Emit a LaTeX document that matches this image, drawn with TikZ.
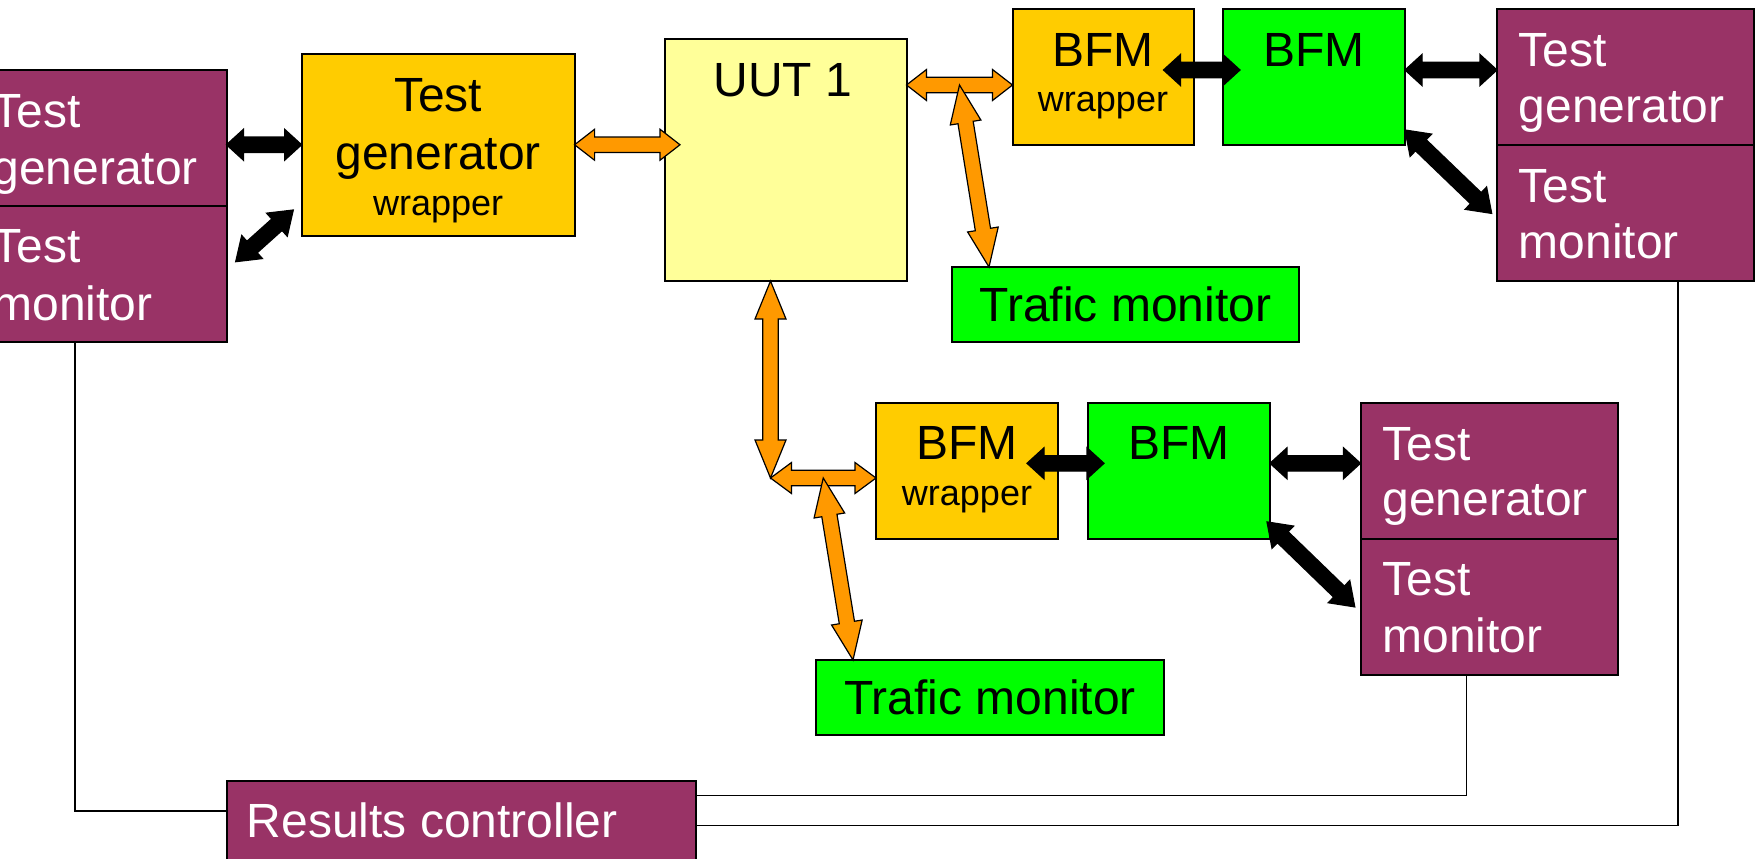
\documentclass[tikz,border=0pt]{standalone}
\usepackage{fontspec}
\setmainfont{Liberation Sans}
\usetikzlibrary{calc}
\definecolor{ppurple}{HTML}{993366}
\definecolor{pgold}{HTML}{FFCC00}
\definecolor{pyellow}{HTML}{FFFF99}
\definecolor{pgreen}{HTML}{00FF00}
\definecolor{porange}{HTML}{FF9900}
\newcommand\bigtxt{\fontsize{24}{28}\selectfont}
\newcommand\smalltxt{\fontsize{18}{21}\selectfont}
% block double arrow: #1 from, #2 to, #3 head length, #4 fill
\newcommand\blockarrow[4]{%
  \coordinate (ba) at (#1);
  \coordinate (bb) at (#2);
  \coordinate (ba1) at ($(ba)!#3!(bb)$);
  \coordinate (bb1) at ($(bb)!#3!(ba)$);
  \filldraw[fill=#4, draw=black, line width=0.6pt, line join=miter]
    (ba) -- ($(ba1)!7.75pt!90:(bb)$) -- ($(ba1)!3.85pt!90:(bb)$)
    -- ($(bb1)!3.85pt!-90:(ba)$) -- ($(bb1)!7.75pt!-90:(ba)$)
    -- (bb) -- ($(bb1)!7.75pt!90:(ba)$) -- ($(bb1)!3.85pt!90:(ba)$)
    -- ($(ba1)!3.85pt!-90:(bb)$) -- ($(ba1)!7.75pt!-90:(bb)$) -- cycle;
}
\begin{document}
\begin{tikzpicture}[x=0.5pt,y=-0.5pt,
  box/.style={draw=black, line width=1pt, inner sep=0pt, outer sep=0pt, anchor=north west},
  pbox/.style={box, fill=ppurple},
  gbox/.style={box, fill=pgold},
  grbox/.style={box, fill=pgreen},
  ybox/.style={box, fill=pyellow},
  ptxt/.style={anchor=base west, inner sep=0pt, text=white, font=\bigtxt},
  ctxt/.style={anchor=base, inner sep=0pt, font=\bigtxt},
  stxt/.style={anchor=base, inner sep=0pt, font=\smalltxt},
  wire/.style={draw=black, line width=0.6pt}]
\clip (0,0) rectangle (1758,858);

% ---- boxes ----
\node[pbox, minimum width=128.25pt, minimum height=68.25pt] (lpg) at (-30,69.5) {};
\node[pbox, minimum width=128.25pt, minimum height=68pt] (lpm) at (-30,206) {};
\node[gbox, minimum width=136.5pt, minimum height=90.75pt] (tgw) at (301.6,54) {};
\node[ybox, minimum width=120.75pt, minimum height=121pt] (uut) at (665,39) {};
\node[gbox, minimum width=90.5pt, minimum height=68pt] (bfmwt) at (1012.5,9) {};
\node[grbox, minimum width=91pt, minimum height=68pt] (bfmt) at (1223,9) {};
\node[pbox, minimum width=128.25pt, minimum height=68pt] (rpg) at (1497,9) {};
\node[pbox, minimum width=128.25pt, minimum height=67.75pt] (rpm) at (1497,145) {};
\node[grbox, minimum width=173.5pt, minimum height=37.5pt, font=\bigtxt] (tmt) at (952,267) {Trafic monitor};
\node[gbox, minimum width=91pt, minimum height=68pt] (bfmwb) at (876,402.5) {};
\node[grbox, minimum width=91pt, minimum height=68pt] (bfmb) at (1088,402.5) {};
\node[pbox, minimum width=128.75pt, minimum height=68pt] (rpbg) at (1360.5,402.5) {};
\node[pbox, minimum width=128.75pt, minimum height=68.25pt] (rpbm) at (1360.5,538.5) {};
\node[grbox, minimum width=174pt, minimum height=37.5pt, font=\bigtxt] (tmb) at (816,660) {Trafic monitor};
\node[pbox, minimum width=234.75pt, minimum height=41pt] (rc) at (226.5,780.7) {};

% ---- texts ----
\node[ptxt] (lpg1) at ($(lpg.north west)+(22,57.5)$) {Test};
\node[ptxt] (lpg2) at ($(lpg.north west)+(22,115)$) {generator};
\node[ptxt] (lpm1) at ($(lpm.north west)+(22,56.5)$) {Test};
\node[ptxt] (lpm2) at ($(lpm.north west)+(22,114.5)$) {monitor};
\node[ctxt] (tgw1) at ($(tgw.north)+(0,57.7)$) {Test};
\node[ctxt] (tgw2) at ($(tgw.north)+(0,115)$) {generator};
\node[stxt] (tgw3) at ($(tgw.north)+(0,161.7)$) {wrapper};
\node[ctxt] (uut1) at ($(uut.north)+(-3,57.7)$) {UUT 1};
\node[ctxt] (bfmwt1) at ($(bfmwt.north)+(0,57)$) {BFM};
\node[stxt] (bfmwt2) at ($(bfmwt.north)+(0,102.7)$) {wrapper};
\node[ctxt] (bfmt1) at ($(bfmt.north)+(0,57)$) {BFM};
\node[ptxt] (rpg1) at ($(rpg.north west)+(21.5,57.5)$) {Test};
\node[ptxt] (rpg2) at ($(rpg.north west)+(21.5,113)$) {generator};
\node[ptxt] (rpm1) at ($(rpm.north west)+(21.5,57)$) {Test};
\node[ptxt] (rpm2) at ($(rpm.north west)+(21.5,113.5)$) {monitor};
\node[ctxt] (bfmwb1) at ($(bfmwb.north)+(0,57)$) {BFM};
\node[stxt] (bfmwb2) at ($(bfmwb.north)+(0,102.5)$) {wrapper};
\node[ctxt] (bfmb1) at ($(bfmb.north)+(0,57)$) {BFM};
\node[ptxt] (rpbg1) at ($(rpbg.north west)+(21.5,57.5)$) {Test};
\node[ptxt] (rpbg2) at ($(rpbg.north west)+(21.5,113)$) {generator};
\node[ptxt] (rpbm1) at ($(rpbm.north west)+(21.5,57)$) {Test};
\node[ptxt] (rpbm2) at ($(rpbm.north west)+(21.5,113.5)$) {monitor};
\node[ptxt] (rc1) at ($(rc.north west)+(20,57)$) {Results controller};

% ---- wires to results controller ----
\draw[wire] ($(lpm.south west)+(105,0)$) |- ($(rc.north west)+(0,30.3)$);
\draw[wire] ($(rpbm.south west)+(105.9,0)$) |- ($(rc.north east)+(0,15)$);
\draw[wire] ($(rpm.south west)+(181,0)$) |- ($(rc.north east)+(0,45)$);

% ---- block arrows ----
\blockarrow{tgw.west -| lpg.east}{tgw.west}{8.5pt}{black}
\blockarrow{$(lpm.north east)+(9.2,55.7)$}{$(tgw.south west)+(-8.3,-25.5)$}{11pt}{black}
\blockarrow{tgw.east}{$(tgw.east -| uut.west)+(15,0)$}{10pt}{porange}

\coordinate (ta) at ($(uut.east |- bfmwt.west)+(0,8)$);
\coordinate (tb) at ($(bfmwt.west)+(0,8)$);
\coordinate (tj) at ($(ta)!0.5!(tb)$);
\blockarrow{ta}{tb}{10pt}{porange}
\blockarrow{tj}{$(tmt.north west)+(37,0)$}{19pt}{porange}

\blockarrow{$(bfmwt.east)+(-30,-7)$}{$(bfmt.west)+(17,-7)$}{8.5pt}{black}
\blockarrow{$(bfmt.east)+(0,-7)$}{$(bfmt.east -| rpg.west)+(0,-7)$}{8.5pt}{black}
\blockarrow{$(bfmt.south east)+(0,-15)$}{$(rpm.north west)+(-5.3,68.4)$}{11pt}{black}

\coordinate (ua) at ($(uut.south west)+(105.5,0)$);
\coordinate (bw) at ($(bfmwb.west)+(0,7.5)$);
\coordinate (jb) at (ua |- bw);
\coordinate (bj) at ($(jb)!0.5!(bw)$);
\blockarrow{ua}{jb}{19pt}{porange}
\blockarrow{jb}{bw}{10.5pt}{porange}
\blockarrow{bj}{$(tmb.north west)+(37,0)$}{19pt}{porange}

\blockarrow{$(bfmwb.east)+(-31,-7.2)$}{$(bfmb.west)+(16,-7.2)$}{8.5pt}{black}
\blockarrow{$(bfmb.east)+(0,-7.2)$}{$(bfmb.east -| rpbg.west)+(0,-7.2)$}{8.5pt}{black}
\blockarrow{$(bfmb.south east)+(-3,-16.6)$}{$(rpbm.north west)+(-5.7,68.4)$}{11pt}{black}
\end{tikzpicture}
\end{document}
